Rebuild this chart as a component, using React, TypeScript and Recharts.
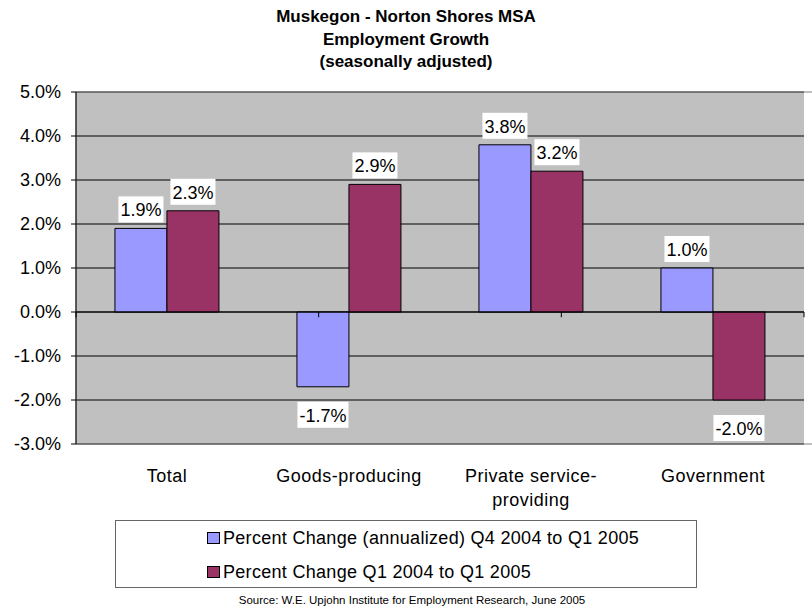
import React from 'react';
import {
  BarChart,
  Bar,
  XAxis,
  YAxis,
  CartesianGrid,
  ReferenceLine,
  ReferenceArea,
  LabelList,
  Legend,
} from 'recharts';

const categories = ['Total', 'Goods-producing', 'Private service-providing', 'Government'];
const quarterChange = [1.9, -1.7, 3.8, 1.0];
const yearChange = [2.3, 2.9, 3.2, -2.0];
const yTicks = [-3, -2, -1, 0, 1, 2, 3, 4, 5];
const seriesNames = [
  'Percent Change (annualized) Q4 2004 to Q1 2005',
  'Percent Change Q1 2004 to Q1 2005',
];
const colors = ['#9999FF', '#993366'];

const data = categories.map((name, i) => ({
  name,
  q: quarterChange[i],
  y: yearChange[i],
}));

// tick marks on the zero line between categories
const bounds = categories.map((_, i) => i).concat(categories.length);

const FONT = '"Liberation Sans", Arial, sans-serif';

const fmt = (v: number) => v.toFixed(1) + '%';

// rough Arial widths so the white label boxes fit the text
const textWidth = (s: string, size: number) => {
  let w = 0;
  for (const c of s) {
    if (c === '.') w += 0.278;
    else if (c === '%') w += 0.889;
    else if (c === '-') w += 0.333;
    else w += 0.556;
  }
  return w * size;
};

const BoxLabel = (props: any) => {
  const { x, y, width, height, value } = props;
  const v = Number(value);
  const cx = x + width / 2;
  const top = Math.min(y, y + height);
  const bottom = Math.max(y, y + height);
  const text = fmt(v);
  const w = textWidth(text, 18) + 4;
  const h = 26;
  const by = v >= 0 ? top - 6 - h : bottom + 15;
  return (
    <g>
      <rect x={cx - w / 2} y={by} width={w} height={h} fill="#fff" />
      <text x={cx} y={by + 20} textAnchor="middle" fontSize={18} fontFamily={FONT} fill="#000">
        {text}
      </text>
    </g>
  );
};

const CatTick = (props: any) => {
  const { x, y, payload } = props;
  const label: string = payload.value;
  let lines = [label];
  if (label.length > 16) {
    const k = label.lastIndexOf('-');
    lines = [label.slice(0, k + 1), label.slice(k + 1)];
  }
  return (
    <text x={x} y={y + 30} textAnchor="middle" fontSize={18} fontFamily={FONT} fill="#000" letterSpacing={0.5}>
      {lines.map((l, i) => (
        <tspan key={i} x={x} dy={i === 0 ? 0 : 24}>
          {l}
        </tspan>
      ))}
    </text>
  );
};

const LegendBox = () => (
  <div
    style={{
      width: 582,
      height: 68,
      boxSizing: 'border-box',
      border: '1px solid #666',
      fontFamily: FONT,
      fontSize: 18,
      color: '#000',
      position: 'relative',
    }}
  >
    {seriesNames.map((n, i) => (
      <div
        key={n}
        style={{
          position: 'absolute',
          left: 91,
          top: i === 0 ? 5 : 39,
          height: 24,
          display: 'flex',
          alignItems: 'center',
          whiteSpace: 'nowrap',
          letterSpacing: 0.3,
        }}
      >
        <span
          style={{
            display: 'inline-block',
            width: 13,
            height: 12,
            boxSizing: 'border-box',
            border: '1px solid #000',
            background: colors[i],
            marginRight: 3,
          }}
        />
        {n}
      </div>
    ))}
  </div>
);

export default function App() {
  return (
    <div style={{ position: 'absolute', left: 0, top: 0, width: 812, height: 611, background: '#fff' }}>
      <div
        style={{
          position: 'absolute',
          left: 0,
          width: 812,
          top: 6,
          textAlign: 'center',
          fontFamily: FONT,
          fontWeight: 'bold',
          fontSize: 17,
          lineHeight: '22.5px',
          color: '#000',
        }}
      >
        <div>Muskegon - Norton Shores MSA</div>
        <div>Employment Growth</div>
        <div>(seasonally adjusted)</div>
      </div>
      <BarChart
        width={812}
        height={611}
        data={data}
        margin={{ top: 92, right: 8, bottom: 127, left: 0 }}
        barCategoryGap="21.4%"
        barGap={0}
      >
        <CartesianGrid horizontal vertical={false} stroke="#000" fill="#C0C0C0" fillOpacity={1} />
        <XAxis dataKey="name" axisLine={false} tickLine={false} height={40} tick={<CatTick />} interval={0} />
        <XAxis xAxisId="n" type="number" domain={[0, 4]} hide allowDataOverflow />
        <YAxis
          domain={[-3, 5]}
          ticks={yTicks}
          tickFormatter={fmt}
          width={76}
          tickSize={5}
          tickMargin={10}
          axisLine={{ stroke: '#000' }}
          tickLine={{ stroke: '#000' }}
          tick={{ fontSize: 18, fontFamily: FONT, fill: '#000' }}
          interval={0}
        />
        <ReferenceArea xAxisId="n" x1={0} x2={4} y1={-3} y2={5} fill="none" stroke="#808080" ifOverflow="visible" />
        <ReferenceLine y={0} stroke="#000" />
        {bounds.map((b) => (
          <ReferenceLine
            key={b}
            xAxisId="n"
            segment={[
              { x: b, y: 0 },
              { x: b, y: -0.12 },
            ]}
            stroke="#000"
            ifOverflow="visible"
          />
        ))}
        <Bar dataKey="q" name={seriesNames[0]} fill={colors[0]} stroke="#000" strokeWidth={1} isAnimationActive={false}>
          <LabelList dataKey="q" content={<BoxLabel />} />
        </Bar>
        <Bar dataKey="y" name={seriesNames[1]} fill={colors[1]} stroke="#000" strokeWidth={1} isAnimationActive={false}>
          <LabelList dataKey="y" content={<BoxLabel />} />
        </Bar>
        <Legend
          layout="horizontal"
          verticalAlign="middle"
          align="center"
          wrapperStyle={{ left: 115, top: 520, width: 582, height: 68 }}
          content={<LegendBox />}
        />
      </BarChart>
      <div
        style={{
          position: 'absolute',
          left: 0,
          width: 824,
          top: 594,
          textAlign: 'center',
          fontFamily: FONT,
          fontSize: 11.5,
          color: '#000',
        }}
      >
        Source: W.E. Upjohn Institute for Employment Research, June 2005
      </div>
    </div>
  );
}
